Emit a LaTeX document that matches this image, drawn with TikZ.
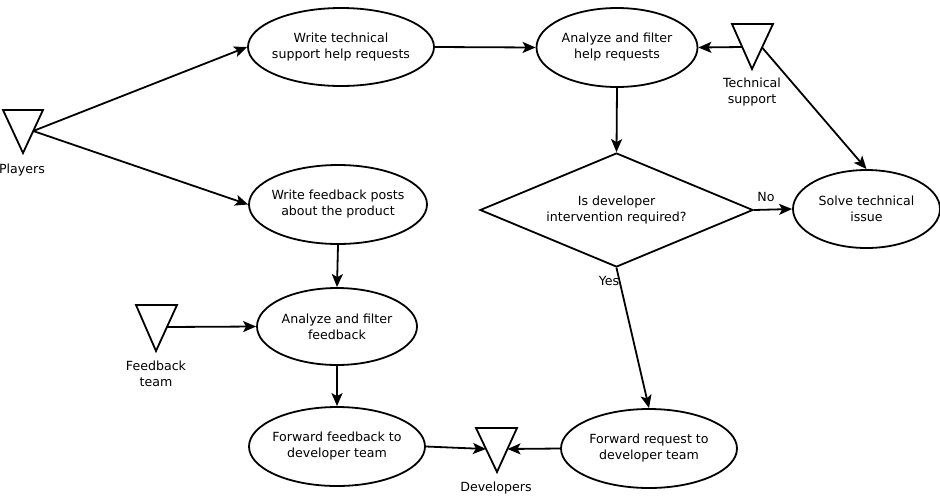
\documentclass[tikz,border=0pt]{standalone}
\usepackage{fontspec}
\setmainfont{DejaVu Sans}
\usetikzlibrary{shapes.geometric,arrows.meta}
\begin{document}
\begin{tikzpicture}[x=1pt,y=-1pt,
  every node/.style={font=\fontsize{12.6}{16}\selectfont},
  proc/.style={ellipse,draw,line width=1.8pt,inner sep=0pt},
  decide/.style={diamond,draw,line width=1.8pt,inner sep=0pt,line join=miter},
  tri/.style={draw,line width=1.8pt,line join=miter},
  conn/.style={line width=1.8pt,-{Stealth[length=13pt,width=11pt,inset=3pt]}},
  txt/.style={align=center}]
\useasboundingbox (0,0) rectangle (940,496);

% processes
\node[proc,minimum width=186pt,minimum height=78pt,
  label={[txt]center:Write technical\\support help requests}] (e1) at (341,47) {};
\node[proc,minimum width=161pt,minimum height=79pt,
  label={[txt]center:Analyze and filter\\help requests}] (e2) at (617,47.5) {};
\node[proc,minimum width=178pt,minimum height=79pt,
  label={[txt]center:Write feedback posts\\about the product}] (e3) at (338,204.5) {};
\node[proc,minimum width=160pt,minimum height=77pt,
  label={[txt]center:Analyze and filter\\feedback}] (e4) at (337,326.5) {};
\node[proc,minimum width=176pt,minimum height=79pt,
  label={[txt]center:Forward feedback to\\developer team}] (e5) at (337,446.5) {};
\node[proc,minimum width=176pt,minimum height=79pt,
  label={[txt]center:Forward request to\\developer team}] (e6) at (649,448.5) {};
\node[proc,minimum width=147pt,minimum height=78pt,
  label={[txt]center:Solve technical\\issue}] (e7) at (866.5,209) {};

% decision
\node[decide,minimum width=273pt,minimum height=114pt,
  label={[txt]center:Is developer\\intervention required?}] (d) at (616.5,210) {};

% actors (inverted triangles)
\draw[tri] (3,110) -- (43,110) -- (23,153) -- cycle;
\coordinate (pl) at (33.2,131);
\node (plab) at (22,170) {Players};

\draw[tri] (732,24) -- (773,24) -- (752,69) -- cycle;
\coordinate (tsl) at (742,47);
\coordinate (tsr) at (762.5,48);
\node[txt] (tslab) at (752,92) {Technical\\support};

\draw[tri] (136,305) -- (177,305) -- (156,351) -- cycle;
\coordinate (fbr) at (167,327);
\node[txt] (fblab) at (156,373.5) {Feedback\\team};

\draw[tri] (476,428) -- (517,428) -- (497,472) -- cycle;
\coordinate (dvl) at (486,449);
\coordinate (dvr) at (507.5,449);
\node (dvlab) at (496,488) {Developers};

% connectors
\draw[conn] (pl) -- (e1.west);
\draw[conn] (pl) -- (e3.west);
\draw[conn] (e1.east) -- (e2.west);
\draw[conn] (tsl) -- (e2.east);
\draw[conn] (tsr) -- (e7.north);
\draw[conn] (e2.south) -- (d.north);
\draw[conn] (d.east) -- (e7.west);
\node (no) at (766,197) {No};
\draw[conn] (d.south) -- (e6.north);
\node (yes) at (609,281) {Yes};
\draw[conn] (e3.south) -- (e4.north);
\draw[conn] (fbr) -- (e4.west);
\draw[conn] (e4.south) -- (e5.north);
\draw[conn] (e5.east) -- (dvl);
\draw[conn] (e6.west) -- (dvr);
\end{tikzpicture}
\end{document}
